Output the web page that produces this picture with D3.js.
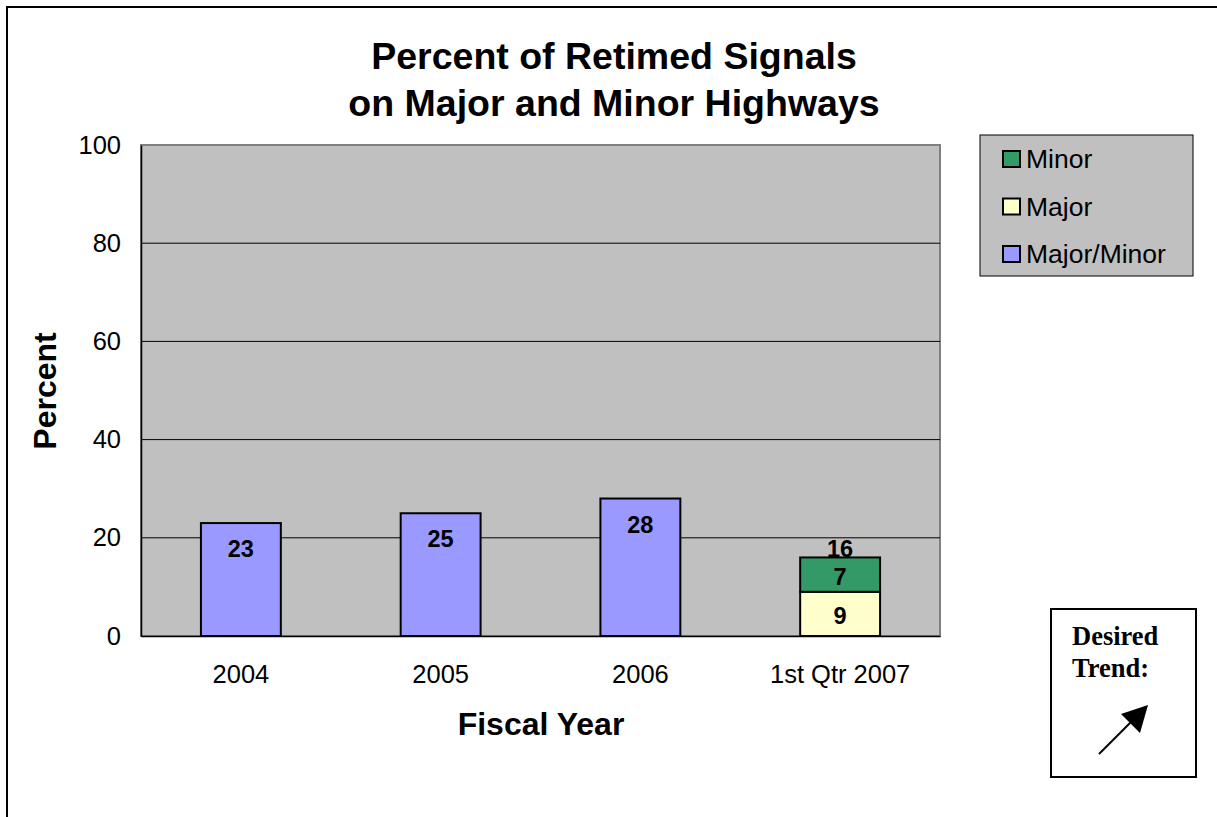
<!DOCTYPE html>
<html>
<head>
<meta charset="utf-8">
<script src="https://cdn.jsdelivr.net/npm/d3@7"></script>
<style>
  html, body { margin: 0; padding: 0; background: #fff; }
  svg { display: block; }
</style>
</head>
<body>
<svg id="chart" width="1217" height="817"></svg>
<script>
// Fiscal-year categories and the three stacked series
const categories = ["2004", "2005", "2006", "1st Qtr 2007"];
const majorMinor = [23, 25, 28, 0];
const major      = [0, 0, 0, 9];
const minor      = [0, 0, 0, 7];
const yTicks     = [0, 20, 40, 60, 80, 100];
const seriesNames = ["Major/Minor", "Major", "Minor"];
const seriesColors = ["#9999ff", "#ffffcc", "#339966"];

const svg = d3.select("#chart");
const font = "Arial, 'Liberation Sans', sans-serif";

// Outer chart frame (open on the right and bottom edges)
svg.append("rect")
  .attr("x", 7).attr("y", 7)
  .attr("width", 1240).attr("height", 840)
  .attr("fill", "#fff").attr("stroke", "#000").attr("stroke-width", 2);

const plot = { left: 141, top: 145, right: 940, bottom: 636 };

const x = d3.scaleBand()
  .domain(categories)
  .range([plot.left, plot.right])
  .paddingInner(0.6).paddingOuter(0.3);

const y = d3.scaleLinear()
  .domain([0, 100])
  .range([plot.bottom, plot.top]);

// Plot background
svg.append("rect")
  .attr("x", plot.left).attr("y", plot.top)
  .attr("width", plot.right - plot.left).attr("height", plot.bottom - plot.top)
  .attr("fill", "#c0c0c0").attr("stroke", "#808080").attr("stroke-width", 2);

// Gridlines
svg.append("g")
  .selectAll("line")
  .data(yTicks.filter(t => t > 0 && t < 100))
  .join("line")
  .attr("x1", plot.left).attr("x2", plot.right)
  .attr("y1", d => y(d)).attr("y2", d => y(d))
  .attr("stroke", "#000").attr("stroke-width", 1);

// Y axis
const yAxis = svg.append("g")
  .attr("transform", `translate(${plot.left},0)`)
  .call(d3.axisLeft(y).tickValues(yTicks).tickSize(0).tickPadding(20));
yAxis.select(".domain").attr("stroke", "#000").attr("stroke-width", 1.5);
yAxis.selectAll("text").attr("font-family", font).attr("font-size", 25.5).attr("fill", "#000");

// X axis
const xAxis = svg.append("g")
  .attr("transform", `translate(0,${plot.bottom})`)
  .call(d3.axisBottom(x).tickSize(0).tickPadding(29));
xAxis.select(".domain").attr("stroke", "#000").attr("stroke-width", 1.5);
xAxis.selectAll("text").attr("font-family", font).attr("font-size", 25.5).attr("fill", "#000");

// Stacked bars
const rows = categories.map((c, i) => ({
  cat: c, "Major/Minor": majorMinor[i], "Major": major[i], "Minor": minor[i]
}));
const stack = d3.stack().keys(seriesNames)(rows);

stack.forEach((layer, si) => {
  svg.append("g")
    .selectAll("rect")
    .data(layer.filter(d => d[1] - d[0] > 0))
    .join("rect")
    .attr("x", d => x(d.data.cat))
    .attr("y", d => y(d[1]))
    .attr("width", x.bandwidth())
    .attr("height", d => y(d[0]) - y(d[1]))
    .attr("fill", seriesColors[si])
    .attr("stroke", "#000").attr("stroke-width", 2);

  // Segment value labels
  svg.append("g")
    .selectAll("text")
    .data(layer.filter(d => d[1] - d[0] > 0))
    .join("text")
    .attr("x", d => x(d.data.cat) + x.bandwidth() / 2)
    .attr("y", d => {
      const h = y(d[0]) - y(d[1]);
      return si === 0 ? y(d[1]) + 34 : y(d[1]) + h / 2 + 10;
    })
    .attr("text-anchor", "middle")
    .attr("font-family", font).attr("font-weight", "bold").attr("font-size", 23.5)
    .text(d => d[1] - d[0]);
});

// Total label for stacked category
rows.forEach((r, i) => {
  if (major[i] + minor[i] > 0) {
    const total = major[i] + minor[i];
    svg.append("text")
      .attr("x", x(r.cat) + x.bandwidth() / 2)
      .attr("y", y(total))
      .attr("text-anchor", "middle")
      .attr("font-family", font).attr("font-weight", "bold").attr("font-size", 23.5)
      .text(total);
  }
});

// Title
svg.append("text")
  .attr("x", 614).attr("text-anchor", "middle")
  .attr("font-family", font).attr("font-weight", "bold").attr("font-size", 37.5)
  .selectAll("tspan")
  .data(["Percent of Retimed Signals", "on Major and Minor Highways"])
  .join("tspan")
  .attr("x", 614)
  .attr("y", (d, i) => 69 + i * 47)
  .text(d => d);

// Axis titles
svg.append("text")
  .attr("x", 541).attr("y", 735)
  .attr("text-anchor", "middle")
  .attr("font-family", font).attr("font-weight", "bold").attr("font-size", 32)
  .text("Fiscal Year");

svg.append("text")
  .attr("transform", "translate(56,391) rotate(-90)")
  .attr("text-anchor", "middle")
  .attr("font-family", font).attr("font-weight", "bold").attr("font-size", 32)
  .text("Percent");

// Legend
const legend = svg.append("g").attr("transform", "translate(980,135)");
legend.append("rect")
  .attr("width", 213).attr("height", 141)
  .attr("fill", "#c0c0c0").attr("stroke", "#000").attr("stroke-width", 1);
const legendOrder = ["Minor", "Major", "Major/Minor"];
legendOrder.forEach((name, i) => {
  const row = legend.append("g").attr("transform", `translate(0,${24 + i * 47.5})`);
  row.append("rect")
    .attr("x", 23).attr("y", -8).attr("width", 17).attr("height", 16)
    .attr("fill", seriesColors[seriesNames.indexOf(name)])
    .attr("stroke", "#000").attr("stroke-width", 2);
  row.append("text")
    .attr("x", 46).attr("y", 9)
    .attr("font-family", font).attr("font-size", 26.5)
    .text(name);
});

// "Desired Trend" box with arrow
const trend = svg.append("g").attr("transform", "translate(1051,609)");
trend.append("rect")
  .attr("width", 145).attr("height", 168)
  .attr("fill", "#fff").attr("stroke", "#000").attr("stroke-width", 2);
trend.append("text")
  .attr("font-family", "'Liberation Serif', 'Times New Roman', serif")
  .attr("font-weight", "bold").attr("font-size", 26.5)
  .selectAll("tspan")
  .data(["Desired", "Trend:"])
  .join("tspan")
  .attr("x", 21)
  .attr("y", (d, i) => 36 + i * 32)
  .text(d => d);

trend.append("line")
  .attr("x1", 48).attr("y1", 145)
  .attr("x2", 90).attr("y2", 103)
  .attr("stroke", "#000").attr("stroke-width", 2);
trend.append("path")
  .attr("d", "M97,96 L89,124 L70,105 Z")
  .attr("fill", "#000");
</script>
</body>
</html>
